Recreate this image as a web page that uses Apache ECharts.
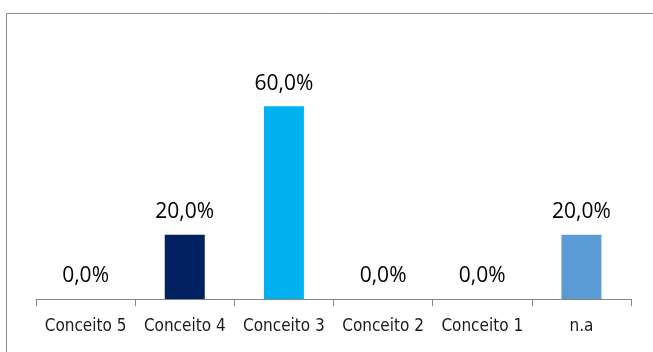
<!DOCTYPE html>
<html>
<head>
<meta charset="utf-8">
<script src="https://cdn.jsdelivr.net/npm/echarts@6/dist/echarts.min.js"></script>
<style>html,body{margin:0;padding:0;background:#fff;}#c{width:653px;height:352px;}</style>
</head>
<body>
<div id="c"></div>
<script>
const categories = ["Conceito 5", "Conceito 4", "Conceito 3", "Conceito 2", "Conceito 1", "n.a"];
const values = [0, 20, 60, 0, 0, 20];
const barColors = ["#002060", "#002060", "#00B0F0", "#002060", "#002060", "#5B9BD5"];

const chart = echarts.init(document.getElementById('c'), null, {renderer: 'canvas'});
chart.setOption({
  animation: false,
  backgroundColor: '#fff',
  graphic: [{
    type: 'rect', left: 4, top: 11, shape: {width: 700, height: 400},
    style: {fill: 'none', stroke: '#8c8c8c', lineWidth: 1}, silent: true
  }],
  grid: {left: 36, right: 22, top: 74, bottom: 53},
  xAxis: {
    type: 'category', data: categories,
    axisLine: {lineStyle: {color: '#868686', width: 1}},
    axisTick: {show: true, length: 7, lineStyle: {color: '#868686'}},
    axisLabel: {interval: 0, color: '#1a1a1a', fontFamily: 'DejaVu Sans Condensed', fontSize: 17, margin: 19}
  },
  yAxis: {type: 'value', min: 0, max: 70, show: false, splitLine: {show: false}},
  series: [{
    type: 'bar', barWidth: 40,
    data: values.map((v, i) => ({value: v, itemStyle: {color: barColors[i]}})),
    label: {
      show: true, position: 'top', distance: 12,
      fontFamily: 'Open Sans', fontSize: 21, color: '#000',
      formatter: p => p.value.toFixed(1).replace('.', ',') + '%'
    }
  }]
});
</script>
</body>
</html>
